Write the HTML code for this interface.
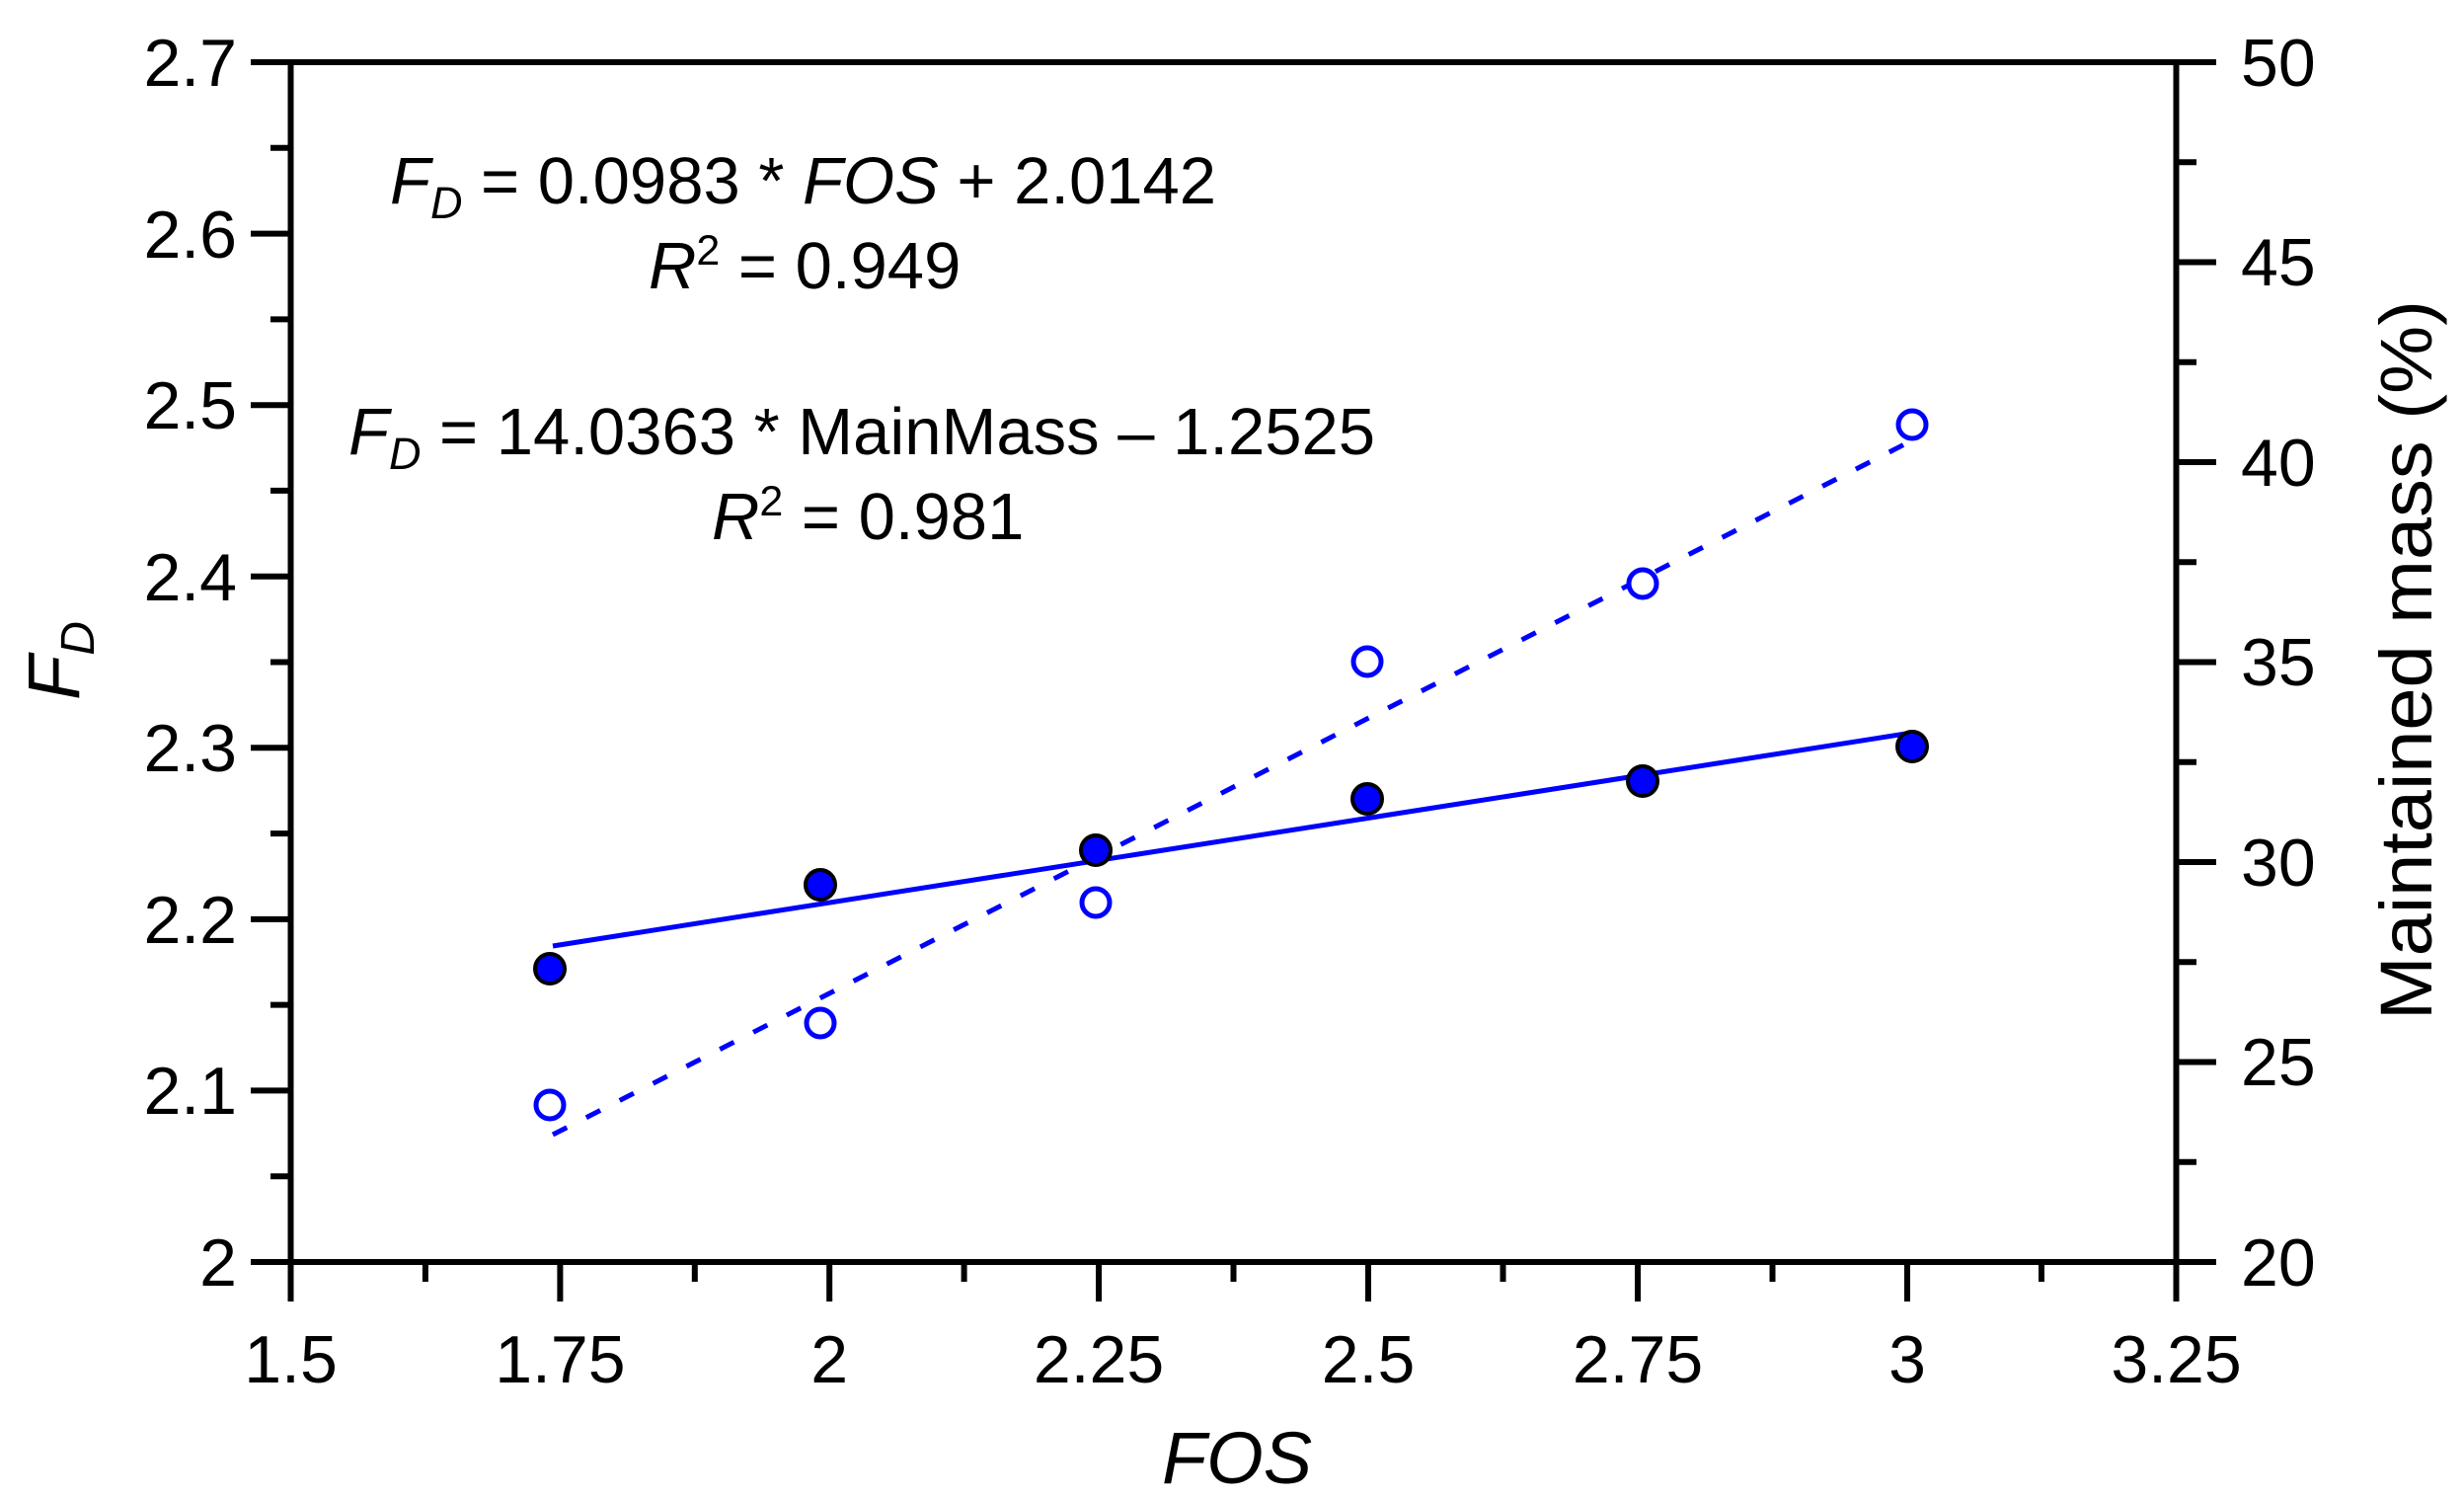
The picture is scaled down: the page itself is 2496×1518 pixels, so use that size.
<!DOCTYPE html>
<html><head><meta charset="utf-8"><style>html,body{margin:0;padding:0;background:#fff}svg{display:block}</style></head>
<body>
<svg width="2496" height="1518" viewBox="0 0 2496 1518" xmlns="http://www.w3.org/2000/svg" font-family="Liberation Sans, Arial, sans-serif">
<rect width="2496" height="1518" fill="#fff"/>
<g stroke="#000" stroke-width="6" fill="none">
<rect x="294.5" y="63" width="1910" height="1215"/>
<path d="M254 1278H294M254 1104.4H294M254 930.9H294M254 757.3H294M254 583.7H294M254 410.2H294M254 236.6H294M254 63H294"/>
<path d="M274 1191.2H294M274 1017.6H294M274 844.1H294M274 670.5H294M274 496.9H294M274 323.4H294M274 149.8H294"/>
<path d="M2204 1278H2245M2204 1075.5H2245M2204 873H2245M2204 670.5H2245M2204 468H2245M2204 265.5H2245M2204 63H2245"/>
<path d="M2204 1176.75H2225M2204 974.25H2225M2204 771.75H2225M2204 569.25H2225M2204 366.75H2225M2204 164.25H2225"/>
<path d="M294.5 1278V1318M567.4 1278V1318M840.2 1278V1318M1113 1278V1318M1386 1278V1318M1659 1278V1318M1932 1278V1318M2204.5 1278V1318"/>
<path d="M430.9 1278V1298M703.8 1278V1298M976.6 1278V1298M1249.5 1278V1298M1522.5 1278V1298M1795.5 1278V1298M2068 1278V1298"/>
</g>
<g font-size="68" fill="#000" text-anchor="end">
<text x="240" y="1302">2</text><text x="240" y="1128">2.1</text><text x="240" y="955">2.2</text><text x="240" y="781">2.3</text><text x="240" y="608">2.4</text><text x="240" y="434">2.5</text><text x="240" y="261">2.6</text><text x="240" y="87">2.7</text>
</g>
<g font-size="68" fill="#000" text-anchor="start">
<text x="2270" y="1302">20</text><text x="2270" y="1099">25</text><text x="2270" y="897">30</text><text x="2270" y="694">35</text><text x="2270" y="492">40</text><text x="2270" y="289">45</text><text x="2270" y="87">50</text>
</g>
<g font-size="68" fill="#000" text-anchor="middle">
<text x="294.5" y="1400">1.5</text><text x="567.4" y="1400">1.75</text><text x="840.2" y="1400">2</text><text x="1113" y="1400">2.25</text><text x="1386" y="1400">2.5</text><text x="1659" y="1400">2.75</text><text x="1932" y="1400">3</text><text x="2204.5" y="1400">3.25</text>
<text x="1253" y="1502" font-style="italic" font-size="74">FOS</text>
</g>
<text transform="translate(80,669) rotate(-90)" text-anchor="middle" font-size="74" font-style="italic">F<tspan font-size="48" dy="15">D</tspan></text>
<text transform="translate(2463,1033) rotate(-90)" text-anchor="start" font-size="74" textLength="729" lengthAdjust="spacingAndGlyphs">Maintained mass (%)</text>
<g font-size="67" fill="#000">
<text x="395" y="206"><tspan font-style="italic">F</tspan><tspan font-style="italic" font-size="45" dy="15">D</tspan><tspan dy="-15"> = 0.0983 * </tspan><tspan font-style="italic">FOS</tspan> + 2.0142</text>
<text x="657" y="292"><tspan font-style="italic">R</tspan><tspan font-size="43" dy="-24">2</tspan><tspan dy="24"> = 0.949</tspan></text>
<text x="353" y="460"><tspan font-style="italic">F</tspan><tspan font-style="italic" font-size="45" dy="15">D</tspan><tspan dy="-15"> = 14.0363 * MainMass – 1.2525</tspan></text>
<text x="721" y="546"><tspan font-style="italic">R</tspan><tspan font-size="43" dy="-24">2</tspan><tspan dy="24"> = 0.981</tspan></text>
</g>
<line x1="560" y1="958" x2="1937" y2="742" stroke="#0000ff" stroke-width="5"/>
<line x1="560" y1="1149" x2="1937" y2="446" stroke="#0000ff" stroke-width="5" stroke-dasharray="16 22"/>
<g fill="#fff" stroke="#0000ff" stroke-width="5">
<circle cx="557" cy="1119" r="14"/><circle cx="831" cy="1036" r="14"/><circle cx="1110" cy="914" r="14"/><circle cx="1385" cy="670" r="14"/><circle cx="1664" cy="591" r="14"/><circle cx="1937" cy="430" r="14"/>
</g>
<g fill="#0000ff" stroke="#000" stroke-width="4">
<circle cx="557" cy="981" r="15"/><circle cx="831" cy="896" r="15"/><circle cx="1110" cy="861" r="15"/><circle cx="1385" cy="809" r="15"/><circle cx="1664" cy="791" r="15"/><circle cx="1937" cy="756" r="15"/>
</g>
</svg>
</body></html>
